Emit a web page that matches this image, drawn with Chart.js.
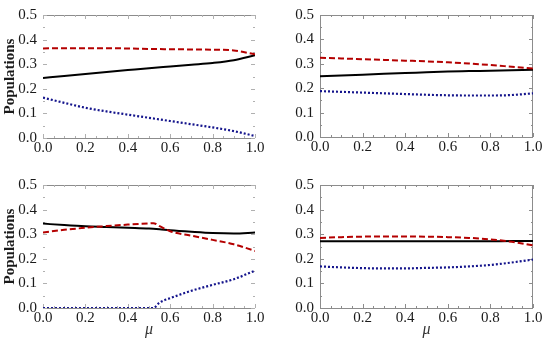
<!DOCTYPE html>
<html>
<head>
<meta charset="utf-8">
<script src="https://cdn.jsdelivr.net/npm/chart.js@4/dist/chart.umd.min.js"></script>
<style>
  html, body { margin: 0; padding: 0; background: #fff; }
  #wrap { position: relative; width: 545px; height: 347px; overflow: hidden; }
  canvas { position: absolute; }
</style>
</head>
<body>
<div id="wrap">
  <canvas id="c1" width="270" height="170" style="left:0px;top:0px;width:270px;height:170px"></canvas>
  <canvas id="c2" width="275" height="170" style="left:270px;top:0px;width:275px;height:170px"></canvas>
  <canvas id="c3" width="270" height="177" style="left:0px;top:170px;width:270px;height:177px"></canvas>
  <canvas id="c4" width="275" height="177" style="left:270px;top:170px;width:275px;height:177px"></canvas>
</div>
<script>
// ---- data ----
const mu = [0.0, 0.1, 0.2, 0.3, 0.4, 0.5, 0.6, 0.7, 0.8, 0.9, 1.0];
const muP3 = [0.0, 0.1, 0.2, 0.3, 0.4, 0.5, 0.52, 0.55, 0.6, 0.7, 0.8, 0.9, 1.0];

const p1Black = [0.244, 0.252, 0.260, 0.268, 0.276, 0.284, 0.291, 0.298, 0.305, 0.316, 0.336];
const p1Red   = [0.364, 0.365, 0.365, 0.365, 0.364, 0.362, 0.361, 0.360, 0.359, 0.356, 0.340];
const p1Blue  = [0.164, 0.143, 0.123, 0.108, 0.095, 0.082, 0.069, 0.056, 0.043, 0.028, 0.008];

const p2Black = [0.249, 0.252, 0.255, 0.259, 0.262, 0.265, 0.268, 0.270, 0.272, 0.274, 0.276];
const p2Red   = [0.325, 0.322, 0.319, 0.316, 0.313, 0.310, 0.306, 0.301, 0.295, 0.288, 0.281];
const p2Blue  = [0.188, 0.185, 0.182, 0.179, 0.176, 0.173, 0.171, 0.170, 0.170, 0.172, 0.179];

const p3Black = [0.343, 0.337, 0.332, 0.329, 0.326, 0.323, 0.322, 0.320, 0.316, 0.310, 0.305, 0.303, 0.307];
const p3Red   = [0.307, 0.318, 0.326, 0.333, 0.339, 0.344, 0.345, 0.333, 0.312, 0.294, 0.277, 0.259, 0.232];
const p3Blue  = [0.0, 0.0, 0.0, 0.0, 0.0, 0.0, 0.0, 0.022, 0.040, 0.070, 0.094, 0.117, 0.152];

const p4Black = [0.271, 0.271, 0.271, 0.271, 0.271, 0.271, 0.271, 0.271, 0.271, 0.272, 0.272];
const p4Red   = [0.285, 0.288, 0.290, 0.291, 0.291, 0.290, 0.288, 0.285, 0.279, 0.269, 0.255];
const p4Blue  = [0.169, 0.165, 0.162, 0.161, 0.161, 0.163, 0.165, 0.169, 0.175, 0.185, 0.197];

const yTickValues = [0.0, 0.1, 0.2, 0.3, 0.4, 0.5];
const xTickValues = [0.0, 0.2, 0.4, 0.6, 0.8, 1.0];
const yTitle = 'Populations';
const xTitle = 'μ';

// ---- styling ----
const SERIF = '"Liberation Serif", "DejaVu Serif", serif';
const RED = '#b40000';
const BLUE = '#14148c';
const BLACK = '#000000';

function pts(xs, ys) { return xs.map((x, i) => ({ x: x, y: ys[i] })); }

const framePlugin = {
  id: 'frame',
  beforeDatasetsDraw(chart, args, opts) {
    const ctx = chart.ctx;
    const a = chart.chartArea;
    const xs = chart.scales.x, ys = chart.scales.y;
    ctx.save();
    ctx.lineWidth = 1;
    ctx.strokeStyle = '#8c8c8c';
    ctx.beginPath();
    ctx.moveTo(a.left, a.top + 0.5); ctx.lineTo(a.right, a.top + 0.5);
    ctx.moveTo(a.left, a.bottom + 0.5); ctx.lineTo(a.right, a.bottom + 0.5);
    if (opts.sides) {
      ctx.moveTo(a.left + 0.5, a.top); ctx.lineTo(a.left + 0.5, a.bottom);
      ctx.moveTo(a.right - 0.5, a.top); ctx.lineTo(a.right - 0.5, a.bottom);
    }
    ctx.stroke();
    ctx.strokeStyle = opts.sides ? '#8c8c8c' : '#b0b0b0';
    ctx.beginPath();
    for (let v = 0; v <= 0.5001; v += 0.05) {
      const p = Math.round(ys.getPixelForValue(v)) + 0.5;
      const major = Math.abs(v * 10 - Math.round(v * 10)) < 1e-6;
      const L = major ? 4 : 2;
      ctx.moveTo(a.left, p); ctx.lineTo(a.left + L, p);
      ctx.moveTo(a.right, p); ctx.lineTo(a.right - L, p);
    }
    for (let v = 0; v <= 1.0001; v += 0.05) {
      const p = Math.round(xs.getPixelForValue(v)) + 0.5;
      const major = Math.abs(v * 5 - Math.round(v * 5)) < 1e-6;
      const L = major ? 4 : 2;
      ctx.moveTo(p, a.top); ctx.lineTo(p, a.top + L);
      ctx.moveTo(p, a.bottom); ctx.lineTo(p, a.bottom - L);
    }
    ctx.stroke();
    ctx.restore();
  }
};

function makeChart(id, xsArr, black, red, blue, cfg) {
  const ctx = document.getElementById(id);
  return new Chart(ctx, {
    type: 'line',
    data: {
      datasets: [
        { data: pts(xsArr, red), borderColor: RED, borderWidth: 2, borderDash: [6, 3], pointRadius: 0, cubicInterpolationMode: 'monotone', fill: false },
        { data: pts(xsArr, blue), borderColor: BLUE, borderWidth: 2.2, borderDash: [2, 2], pointRadius: 0, cubicInterpolationMode: 'monotone', fill: false },
        { data: pts(xsArr, black), borderColor: BLACK, borderWidth: 2, pointRadius: 0, cubicInterpolationMode: 'monotone', fill: false }
      ]
    },
    options: {
      responsive: false,
      animation: false,
      devicePixelRatio: 1,
      layout: { padding: { top: cfg.top, right: cfg.right, left: 0, bottom: 0 } },
      plugins: { legend: { display: false }, tooltip: { enabled: false }, frame: { sides: cfg.sides } },
      scales: {
        x: {
          type: 'linear', min: 0, max: 1,
          afterBuildTicks: (s) => { s.ticks = xTickValues.map(v => ({ value: v })); },
          afterFit: (s) => { s.height = cfg.xh; },
          grid: { display: false, drawTicks: false, tickLength: 0 }, border: { display: false },
          ticks: { padding: 1, color: '#1a1a1a', font: { family: SERIF, size: 15 }, maxRotation: 0, callback: (v) => Number(v).toFixed(1) },
          title: { display: cfg.xtitle, text: xTitle, color: '#333', font: { family: SERIF, size: 16, style: 'italic' }, padding: { top: 0, bottom: 8 } }
        },
        y: {
          type: 'linear', min: 0, max: 0.5,
          afterBuildTicks: (s) => { s.ticks = yTickValues.map(v => ({ value: v })); },
          afterFit: (s) => { s.width = cfg.yw; },
          grid: { display: false, drawTicks: false, tickLength: 0 }, border: { display: false },
          ticks: { padding: 6, color: '#1a1a1a', font: { family: SERIF, size: 15 }, callback: (v) => Number(v).toFixed(1) },
          title: { display: cfg.ytitle, text: yTitle, color: '#1a1a1a', font: { family: SERIF, size: 15, weight: 'bold' }, padding: { top: 1, bottom: 0 } }
        }
      }
    },
    plugins: [framePlugin]
  });
}

makeChart('c1', mu, p1Black, p1Red, p1Blue, { top: 7, right: 15, yw: 43, xh: 32, sides: false, ytitle: true, xtitle: false });
makeChart('c2', mu, p2Black, p2Red, p2Blue, { top: 7, right: 12, yw: 50, xh: 33, sides: true, ytitle: false, xtitle: false });
makeChart('c3', muP3, p3Black, p3Red, p3Blue, { top: 8, right: 15, yw: 43, xh: 39, sides: false, ytitle: true, xtitle: true });
makeChart('c4', mu, p4Black, p4Red, p4Blue, { top: 8, right: 12, yw: 50, xh: 39, sides: true, ytitle: false, xtitle: true });
</script>
</body>
</html>
